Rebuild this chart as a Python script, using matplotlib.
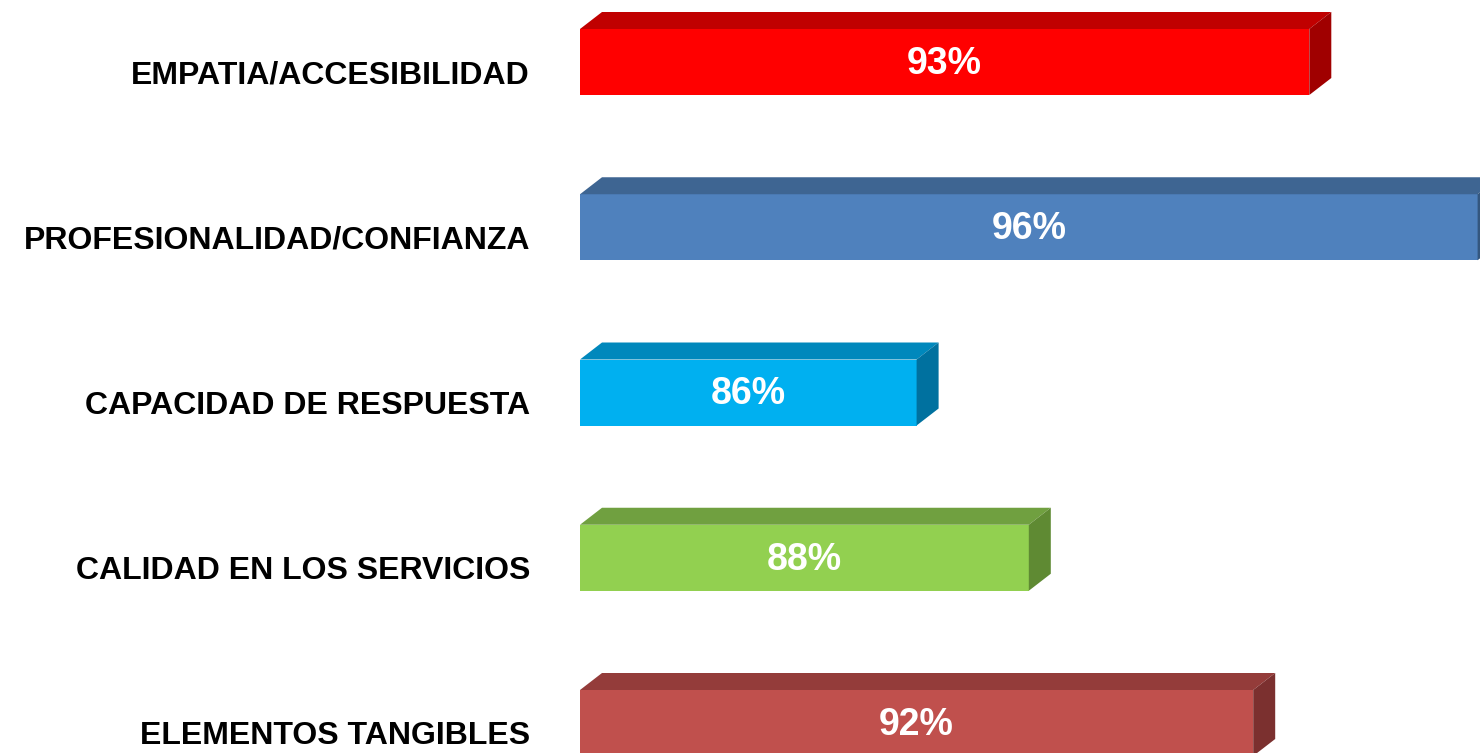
import matplotlib.pyplot as plt
from matplotlib.patches import Polygon

categories = ['EMPATIA/ACCESIBILIDAD', 'PROFESIONALIDAD/CONFIANZA',
              'CAPACIDAD DE RESPUESTA', 'CALIDAD EN LOS SERVICIOS',
              'ELEMENTOS TANGIBLES']
values = [93, 96, 86, 88, 92]
value_labels = ['93%', '96%', '86%', '88%', '92%']

front_colors = ['#FF0000', '#4F81BD', '#00B0F0', '#92D050', '#C0504D']
top_colors = ['#C00000', '#3E6592', '#0088BC', '#70A040', '#943C3A']
side_colors = ['#A00000', '#34577F', '#00719F', '#5F8A33', '#7B302F']

plt.rcParams['font.family'] = ['Liberation Sans', 'DejaVu Sans']

fig = plt.figure(figsize=(14.8, 7.53), dpi=100)
ax = fig.add_axes([0, 0, 1, 1])

base = 80
px_x = 56.1     # pixels per percentage point
px_y = 165.25   # pixels per category step
ax.set_xlim(base - 580 / px_x, base + 900 / px_x)
ax.set_ylim((753 - 62) / px_y, -62 / px_y)
ax.axis('off')

h = 66 / px_y
dx = 22 / px_x
dy = 17 / px_y

for i, (v, lab) in enumerate(zip(values, value_labels)):
    ax.barh(i, v - base, left=base, height=h, color=front_colors[i],
            edgecolor='none', zorder=2)
    top = i - h / 2
    bot = i + h / 2
    ax.add_patch(Polygon([(base, top), (v, top), (v + dx, top - dy), (base + dx, top - dy)],
                         closed=True, facecolor=top_colors[i], edgecolor='none', zorder=2))
    ax.add_patch(Polygon([(v, top), (v + dx, top - dy), (v + dx, bot - dy), (v, bot)],
                         closed=True, facecolor=side_colors[i], edgecolor='none', zorder=2))
    ax.text((base + v) / 2, i + 2 / px_y, lab, color='white', fontsize=27,
            fontweight='bold', ha='center', va='center', zorder=3,
            family='Liberation Sans')
    ax.text(base - 50 / px_x, i + 13 / px_y, categories[i], color='black',
            fontsize=23, fontweight='bold', ha='right', va='center',
            family='Liberation Sans')

fig.savefig('out.png', dpi=100)
